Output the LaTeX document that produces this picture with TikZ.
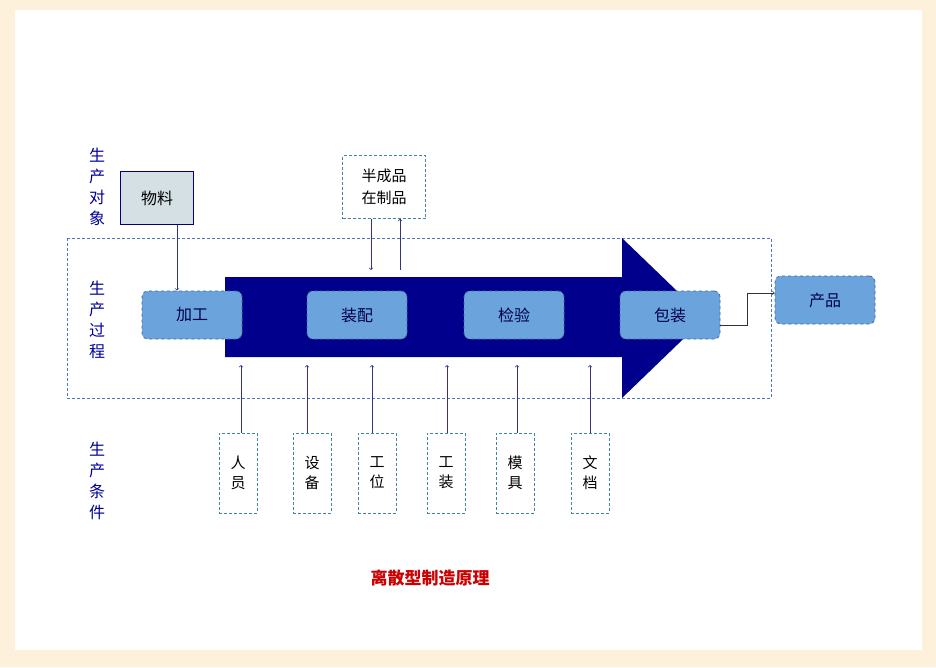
\documentclass[tikz,border=0pt]{standalone}
\usepackage{fontspec}
\setmainfont{Noto Sans CJK SC}
\begin{document}
\begin{tikzpicture}[x=1pt,y=-1pt,
  proc/.style={draw=black!50!cyan!70!blue,dashed,fill=cyan!60!blue!60,rounded corners=6pt,minimum width=100pt,minimum height=48pt,font=\fontsize{16}{18}\selectfont,text=black!70!blue,line width=0.8pt},
  cond/.style={draw=cyan!60!black,densely dashed,minimum width=38pt,minimum height=80pt,font=\fontsize{15}{20}\selectfont,align=center,inner sep=1pt},
  arr/.style={->,draw=blue!40!black!80,line width=0.7pt},
  side/.style={font=\fontsize{16}{21}\selectfont,text=blue!60!black,align=center}]
\useasboundingbox (0,0) rectangle (936,667);
\fill[yellow!15!orange!12] (0,0) rectangle (936,667);
\fill[white] (15,10) rectangle (922,650);
\draw[densely dashed,cyan!50!blue!70!gray] (67,238) rectangle (771,398);
\fill[blue!55!black] (225,277) -- (622,277) -- (622,238) -- (705,318) -- (622,398) -- (622,357) -- (225,357) -- cycle;
\node[proc] (jg) at (192,315) {加工};
\node[proc] (zp) at (357,315) {装配};
\node[proc] (jy) at (514,315) {检验};
\node[proc] (bz) at (670,315) {包装};
\node[proc] (cp) at (825,300) {产品};
\node[draw=blue!50!black,fill=cyan!25!gray!30,minimum width=73pt,minimum height=53pt,font=\fontsize{16}{18}\selectfont] (wl) at (157,198) {物料};
\node[draw=cyan!60!black,densely dashed,minimum width=83pt,minimum height=63pt,align=center,font=\fontsize{15}{22}\selectfont] (bcp) at (384,187) {半成品\\在制品};
\draw[arr] (wl.south -| 177,0) -- (jg.north -| 177,0);
\coordinate (d1) at (371,270);
\coordinate (u1) at (400,270);
\draw[arr] (bcp.south -| d1) -- (d1);
\draw[arr] (u1) -- (bcp.south -| u1);
\draw[arr,black!80] (bz.east |- 0,325) -- (747,325) -- (747,293) -- (cp.west |- 0,293);
\foreach \n/\t/\x/\ax in {ry/人\\员/238/241, sb/设\\备/312/307, gw/工\\位/377/372, gz/工\\装/446/447, mj/模\\具/515/517, wd/文\\档/590/590}{
  \node[cond] (\n) at (\x,473) {\t};
  \coordinate (\n t) at (\ax,365);
  \draw[arr] (\n.north -| \n t) -- (\n t);
}
\node[side] (s1) at (97,187) {生\\产\\对\\象};
\node[side] (s2) at (97,320) {生\\产\\过\\程};
\node[side] (s3) at (97,481) {生\\产\\条\\件};
\node[text=red!80!black,font=\bfseries\fontsize{17}{20}\selectfont] (title) at (430,578) {离散型制造原理};
\end{tikzpicture}
\end{document}
